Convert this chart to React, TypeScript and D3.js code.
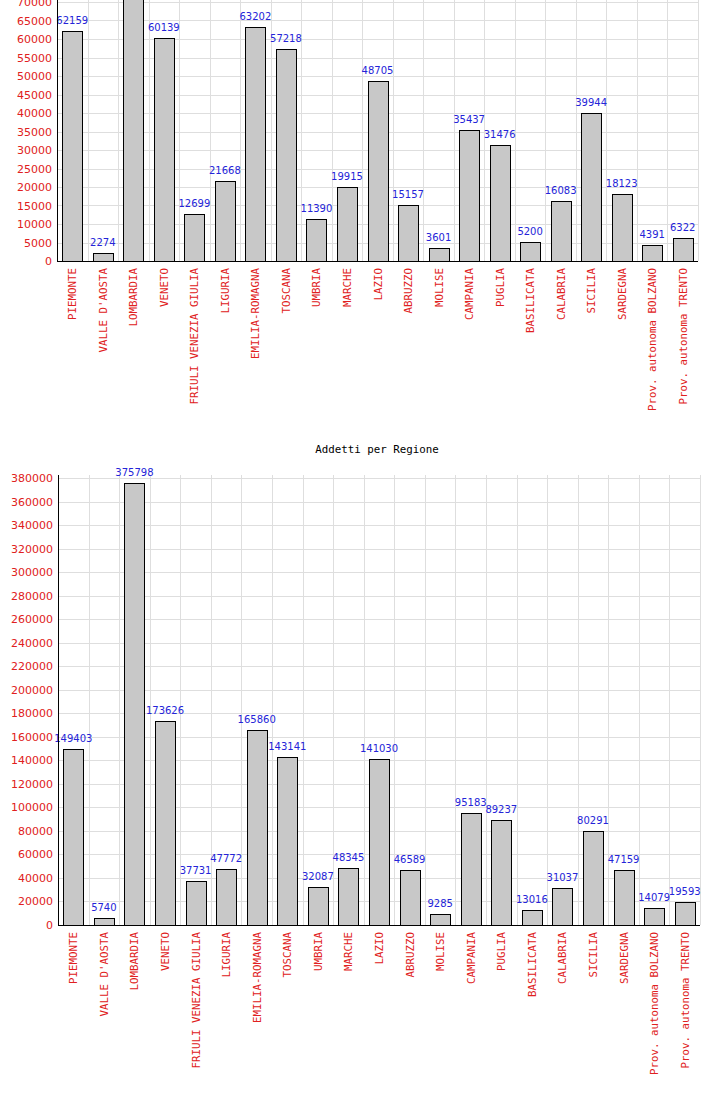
import React from "react";
import * as d3 from "d3";

const regions = [
  "PIEMONTE", "VALLE D'AOSTA", "LOMBARDIA", "VENETO", "FRIULI VENEZIA GIULIA",
  "LIGURIA", "EMILIA-ROMAGNA", "TOSCANA", "UMBRIA", "MARCHE", "LAZIO",
  "ABRUZZO", "MOLISE", "CAMPANIA", "PUGLIA", "BASILICATA", "CALABRIA",
  "SICILIA", "SARDEGNA", "Prov. autonoma BOLZANO", "Prov. autonoma TRENTO",
];

// top chart (cut off at the top of the page); Lombardia value not visible, estimated
const unitaLocali = [
  62159, 2274, 110000, 60139, 12699, 21668, 63202, 57218, 11390, 19915, 48705,
  15157, 3601, 35437, 31476, 5200, 16083, 39944, 18123, 4391, 6322,
];

const addetti = [
  149403, 5740, 375798, 173626, 37731, 47772, 165860, 143141, 32087, 48345,
  141030, 46589, 9285, 95183, 89237, 13016, 31037, 80291, 47159, 14079, 19593,
];

const bottomTitle = "Addetti per Regione";
const topTicks = d3.range(0, 75000, 5000);
const bottomTicks = d3.range(0, 400000, 20000);

const RED = "#e02020";
const BLUE = "#2424d8";
const GRID = "#dedede";

type ChartProps = {
  values: number[];
  ticks: number[];
  y: d3.ScaleLinear<number, number>;
  plotTop: number;
  x0: number;
  x1: number;
  showValue?: (v: number) => boolean;
};

function BarChart({ values, ticks, y, plotTop, x0, x1, showValue }: ChartProps) {
  const x = d3.scaleBand<string>().domain(regions).range([x0, x1]).paddingInner(0).paddingOuter(0);
  const bw = x.bandwidth();
  const barW = 20;
  const base = y(0);
  return (
    <g>
      {ticks.map((t) => (
        <line key={"h" + t} x1={x0} x2={x1} y1={Math.round(y(t)) + 0.5} y2={Math.round(y(t)) + 0.5} stroke={GRID} strokeWidth={1} />
      ))}
      {regions.map((r, i) => (
        <line key={"v" + i} x1={Math.round(x(r)! + bw) + 0.5} x2={Math.round(x(r)! + bw) + 0.5} y1={plotTop} y2={base} stroke={GRID} strokeWidth={1} />
      ))}
      {regions.map((r, i) => {
        const cx = x(r)! + bw / 2;
        const top = y(values[i]);
        return (
          <rect key={"b" + i} x={Math.round(cx - barW / 2) + 0.5} y={Math.round(top) + 0.5} width={barW} height={Math.max(0, Math.round(base) - Math.round(top))} fill="#c8c8c8" stroke="#000" strokeWidth={1} />
        );
      })}
      {regions.map((r, i) => {
        if (showValue && !showValue(values[i])) return null;
        const cx = x(r)! + bw / 2;
        return (
          <text key={"l" + i} x={cx} y={y(values[i]) - 7} textAnchor="middle" fontFamily="DejaVu Sans" fontSize={10} fill={BLUE}>
            {values[i]}
          </text>
        );
      })}
      <line x1={x0 + 0.5} x2={x0 + 0.5} y1={plotTop} y2={Math.round(base) + 0.5} stroke="#000" strokeWidth={1} />
      <line x1={x0} x2={x1} y1={Math.round(base) + 0.5} y2={Math.round(base) + 0.5} stroke="#000" strokeWidth={1} />
      {ticks.map((t) => (
        <text key={"t" + t} x={x0 - 5} y={y(t) + 4} textAnchor="end" fontFamily="DejaVu Sans" fontSize={11} fill={RED}>
          {t}
        </text>
      ))}
      {regions.map((r, i) => {
        const cx = x(r)! + bw / 2 + 4;
        const ly = base + 7;
        return (
          <text key={"x" + i} transform={`translate(${cx},${ly}) rotate(-90)`} textAnchor="end" fontFamily="DejaVu Sans Mono" fontSize={10.8} fill={RED}>
            {r}
          </text>
        );
      })}
    </g>
  );
}

export default function App() {
  const yTop = d3.scaleLinear().domain([0, 70000]).range([261, 2]);
  const yBottom = d3.scaleLinear().domain([0, 380000]).range([925, 478]);
  return (
    <div style={{ position: "absolute", left: 0, top: 0 }}>
      <svg width={715} height={1093} style={{ display: "block", background: "#fff" }}>
        <rect x={0} y={0} width={715} height={1093} fill="#fff" />
        <BarChart values={unitaLocali} ticks={topTicks} y={yTop} plotTop={0} x0={57} x1={698} showValue={(v) => v <= 70000} />
        <text x={377} y={453} textAnchor="middle" fontFamily="DejaVu Sans Mono" fontSize={10.8} fill="#000">
          {bottomTitle}
        </text>
        <BarChart values={addetti} ticks={bottomTicks.filter((t) => t <= 380000)} y={yBottom} plotTop={475} x0={58} x1={700} />
      </svg>
    </div>
  );
}
